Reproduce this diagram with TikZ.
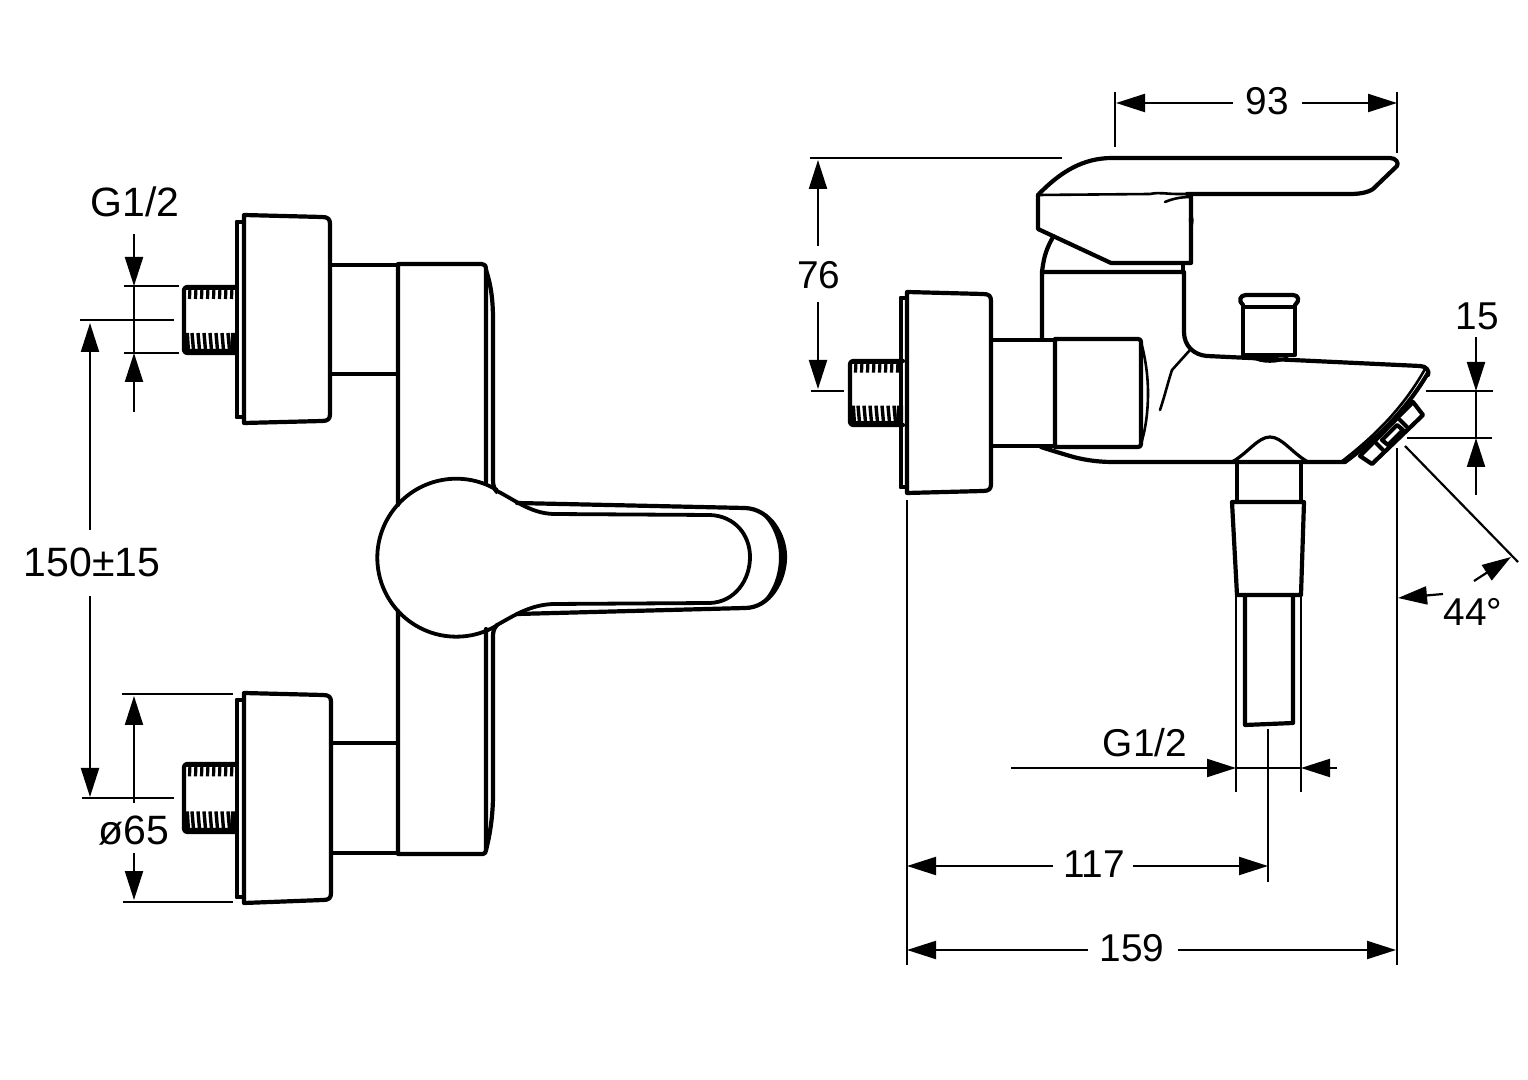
\documentclass[tikz,border=0pt]{standalone}
\usepackage{fontspec}
\setmainfont{Liberation Sans}
\usetikzlibrary{arrows.meta}
\tikzset{
  part/.style={line width=2.1pt,line join=round,line cap=round},
  partthin/.style={line width=1.3pt,line join=round,line cap=round},
  dimline/.style={line width=1.1pt},
  dimarrow/.style={dimline,-{Triangle[length=14.5pt,width=9pt]}},
  dimlabel/.style={font=\fontsize{19.4}{20}\selectfont,inner sep=0pt,text=black},
  dimlabelbig/.style={font=\fontsize{20.5}{21}\selectfont,inner sep=0pt,text=black}
}
\newcommand{\stubthread}[3]{%
  \begin{scope}[shift={(#1,#2)},yscale=#3]
    \draw[part,rounded corners=1.5pt] (53,0) -- (0,0) -- (0,66) -- (53,66);
    \fill (0,0) rectangle (53,3);
    \foreach \i in {0,...,7}{\draw[line width=1.6pt] ({6+6*\i},0) -- ({5.5+6*\i},12);}
    \fill (0,46) -- (5,46) -- (6,62) -- (46,62) -- (47,46) -- (53,46) -- (53,66) -- (0,66) -- cycle;
    \foreach \i in {0,...,6}{\draw[line width=1.7pt] ({8+6*\i},46) -- ({9.5+6*\i},63);}
  \end{scope}}
\newcommand{\flange}[9]{%
  \draw[part] (#2,#8) -- (#2,#9);
  \draw[part] (#2,#8) -- (#1,#8);
  \draw[part] (#2,#9) -- (#1,#9);
  \draw[part] (#1,#4) -- ({#3-8},#5) .. controls ({#3-2},#5) and (#3,{#5+2}) .. (#3,{#5+7}) -- (#3,{#6-7}) .. controls (#3,{#6-2}) and ({#3-2},#6) .. ({#3-8},#6) -- (#1,#7) -- cycle;}
\begin{document}
\begin{tikzpicture}[x=0.5pt,y=-0.5pt]
\useasboundingbox (0,0) rectangle (1528,1080);
\fill[white] (0,0) rectangle (1528,1080);

%% ---------- LEFT VIEW ----------
\flange{244}{237}{330}{215}{217}{421}{423}{222}{417}
\flange{244}{237}{331}{693}{695}{900}{903}{700}{897}
\stubthread{184}{287}{1}
\stubthread{184}{764}{1.03}
% necks
\draw[part] (330,265) -- (398,265);
\draw[part] (330,374) -- (398,374);
\draw[part] (331,743) -- (398,743);
\draw[part] (331,853) -- (398,853);
% body
\draw[part] (398,505) -- (398,264) -- (482,264) .. controls (485,264) and (486,266) .. (486,270) -- (486,482);
\draw[part] (486,270) .. controls (491,285) and (493,300) .. (493,320) -- (493,480) .. controls (493,485) and (494,489) .. (497,492);
\draw[part] (398,611) -- (398,854) -- (483,854) .. controls (485,854) and (486,852) .. (486,850) -- (486,629);
\draw[part] (486,850) .. controls (490,835) and (493,815) .. (493,795) -- (493,636) .. controls (493,632) and (494,628) .. (497,625);
% lever
\fill[white] (497,490) -- (745,508) -- (786,557) -- (745,608) -- (497,626) -- cycle;
\draw[part,line width=1.9pt] (497,490) arc[start angle=-59,end angle=-301,radius=79];
\draw[part,line width=1.9pt] (497,491) .. controls (515,500) and (530,513) .. (553,514) -- (710,515) .. controls (735,516) and (750,535) .. (750,557) .. controls (750,580) and (735,602) .. (710,603) -- (553,604) .. controls (530,605) and (515,615) .. (497,625);
\draw[part,line width=2.1pt] (517,503) -- (745,508) .. controls (770,509) and (785,535) .. (785,557) .. controls (785,580) and (770,608) .. (745,608) -- (517,614);
\fill (755,510) .. controls (774,516) and (786,538) .. (786,557) .. controls (786,578) and (774,600) .. (755,607) .. controls (770,598) and (779,578) .. (779,557) .. controls (779,538) and (770,518) .. (755,510) -- cycle;

% left dimensions
\node[dimlabelbig] (lblGa) at (135,202) {G1/2};
\coordinate (ga1) at (134,234); \coordinate (ga2) at (134,286);
\coordinate (ga3) at (134,412); \coordinate (ga4) at (134,353);
\draw[dimarrow] (ga1) -- (ga2);
\draw[dimarrow] (ga3) -- (ga4);
\draw[dimline] (ga2) -- (ga4);
\draw[dimline] (124,286) -- (179,286);
\draw[dimline] (124,353) -- (179,353);
\draw[dimline] (80,320) -- (174,320);
\node[dimlabelbig] (lblC) at (92,562) {150±15};
\draw[dimarrow] (90,530) -- (90,323);
\draw[dimarrow] (90,596) -- (90,797);
\draw[dimline] (82,798) -- (174,798);
\node[dimlabelbig] (lblD) at (134,831) {ø65};
\draw[dimarrow] (134,803) -- (134,696);
\draw[dimarrow] (134,853) -- (134,900);
\draw[dimline] (122,694) -- (233,694);
\draw[dimline] (123,902) -- (233,902);

%% ---------- RIGHT VIEW ----------
\flange{907}{901}{991}{292}{294}{491}{493}{298}{487}
\stubthread{850}{361}{0.97}
% neck & cylinder
\draw[part] (991,340) -- (1055,340);
\draw[part] (991,446) -- (1055,446);
\draw[part] (1055,339) -- (1138,339) .. controls (1140,339) and (1141,340) .. (1141,342) -- (1141,444) .. controls (1141,446) and (1140,447) .. (1138,447) -- (1055,447) -- cycle;
\draw[partthin] (1141,342) .. controls (1146,360) and (1148,378) .. (1148,393) .. controls (1148,410) and (1146,428) .. (1141,444);
% upper body
\draw[part] (1042,339) -- (1042,272) -- (1184,272) -- (1184,332) .. controls (1184,346) and (1194,355) .. (1207,356) -- (1420,366) .. controls (1426,366) and (1430,371) .. (1428,375);
\draw[part] (1042,272) .. controls (1044,255) and (1047,248) .. (1053,237);
\draw[part] (1183,265) -- (1183,272);
\draw[partthin] (1190,350) -- (1172,370) .. controls (1168,382) and (1165,395) .. (1160,410);
% lever
\draw[part] (1038,195) .. controls (1060,172) and (1083,158) .. (1112,158) -- (1390,158) .. controls (1396,158) and (1399,163) .. (1397,166) -- (1373,189) .. controls (1367,193) and (1358,194) .. (1350,194) -- (1187,194);
\draw[partthin] (1187,194) -- (1178,194) .. controls (1165,194) and (1160,192) .. (1150,194) -- (1038,195);
\draw[part] (1038,195) -- (1038,229) -- (1111,263) -- (1191,263) -- (1191,197);
\draw[partthin] (1165,202) .. controls (1172,199) and (1180,197) .. (1191,197);
\fill (1191,212) .. controls (1194,216) and (1195,224) .. (1191,230) .. controls (1188,224) and (1188,216) .. (1191,212) -- cycle;
% button
\draw[part] (1243,355) -- (1243,307) -- (1295,307) -- (1295,355) -- cycle;
\draw[part,line width=1.2pt] (1243,306) -- (1295,306);
\draw[part] (1243,305) .. controls (1238,301) and (1240,295) .. (1246,295) -- (1293,295) .. controls (1299,295) and (1300,301) .. (1295,305);
\draw[partthin] (1252,357) .. controls (1260,363) and (1280,363) .. (1287,357);
% spout
\draw[part] (1428,373) .. controls (1405,412) and (1375,440) .. (1345,462) -- (1113,462) .. controls (1095,462) and (1080,459) .. (1070,456) .. controls (1060,453) and (1050,450) .. (1041,447);
\draw[partthin] (1425,369) .. controls (1402,410) and (1372,438) .. (1341,462);
\draw[part,line width=1.6pt] (1232,462) .. controls (1248,453) and (1258,437) .. (1270,437) .. controls (1282,437) and (1292,453) .. (1308,462);
% aerator
\draw[part] (1413,402) -- (1423,415) -- (1372,464) -- (1360,456) -- cycle;
\draw[part] (1375,442) -- (1383,450);
\draw[part] (1400,420) -- (1407,427);
\draw[part] (1382,440) -- (1397,425) -- (1403,430) -- (1388,445) -- cycle;
% hose
\draw[part] (1237,462) -- (1237,502);
\draw[part] (1301,462) -- (1301,502);
\draw[part] (1232,502) -- (1304,502) -- (1301,595) -- (1237,595) -- cycle;
\draw[part] (1245,595) -- (1245,725) -- (1293,723) -- (1293,595);

% right dimensions
\draw[dimline] (1236,595) -- (1236,792);
\draw[dimline] (1301,595) -- (1301,792);
\draw[dimline] (1268,729) -- (1268,882);
\node[dimlabel] (lblGb) at (1145,743) {G1/2};
\draw[dimarrow] (1011,768) -- (1236,768);
\draw[dimarrow] (1337,768) -- (1301,768);
\draw[dimline] (1236,768) -- (1301,768);
\node[dimlabel] (lbl117) at (1094,864) {117};
\draw[dimarrow] (1053,866) -- (907,866);
\draw[dimarrow] (1133,866) -- (1268,866);
\node[dimlabel] (lbl159) at (1132,948) {159};
\draw[dimarrow] (1088,950) -- (907,950);
\draw[dimarrow] (1178,950) -- (1396,950);
\draw[dimline] (907,500) -- (907,965);
\draw[dimline] (1397,448) -- (1397,965);
\node[dimlabel] (lbl93) at (1267,101) {93};
\draw[dimarrow] (1233,103) -- (1116,103);
\draw[dimarrow] (1302,103) -- (1397,103);
\draw[dimline] (1115,92) -- (1115,147);
\draw[dimline] (1397,92) -- (1397,153);
\node[dimlabel] (lbl76) at (819,275) {76};
\draw[dimarrow] (818,246) -- (818,160);
\draw[dimarrow] (818,302) -- (818,389);
\draw[dimline] (810,158) -- (1062,158);
\draw[dimline] (811,391) -- (844,391);
\node[dimlabel] (lbl15) at (1477,316) {15};
\draw[dimarrow] (1476,337) -- (1476,391);
\draw[dimarrow] (1476,495) -- (1476,438);
\draw[dimline] (1476,391) -- (1476,438);
\draw[dimline] (1426,391) -- (1493,391);
\draw[dimline] (1407,438) -- (1492,438);
\draw[dimline] (1405,446) -- (1518,562);
\node[dimlabel] (lbl44) at (1473,612) {44°};
\draw[dimarrow] (1474,581) -- (1511,557);
\draw[dimarrow] (1443,594) -- (1398,598);
\end{tikzpicture}
\end{document}
